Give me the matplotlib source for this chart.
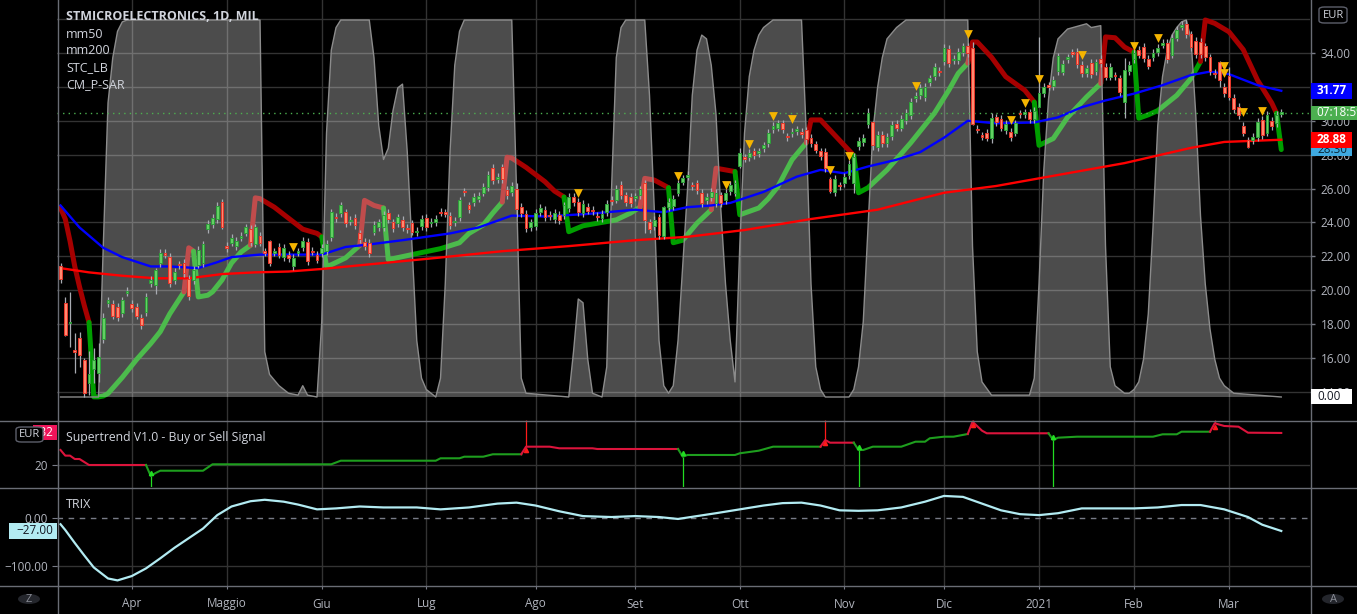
import numpy as np
import pandas as pd
import matplotlib
matplotlib.use("Agg")
import matplotlib.pyplot as plt
from matplotlib import transforms
from matplotlib.patches import Rectangle, FancyBboxPatch, Circle
from matplotlib.lines import Line2D

plt.rcParams['font.family'] = ['Open Sans', 'DejaVu Sans']

# ---------------- data ----------------
TITLE = "STMICROELECTRONICS, 1D, MIL"
LEGEND = ["mm50", "mm200", "STC_LB", "CM_P-SAR"]
ST_TITLE = "Supertrend V1.0 - Buy or Sell Signal"
TRIX_TITLE = "TRIX"
START, END = "2020-03-11", "2021-03-16"
HOLIDAYS = ["2020-04-10", "2020-04-13", "2020-05-01", "2020-12-24",
            "2020-12-25", "2020-12-31", "2021-01-01"]
MONTH_LABELS = ["Apr", "Maggio", "Giu", "Lug", "Ago", "Set", "Ott", "Nov",
                "Dic", "2021", "Feb", "Mar"]
PRICE_TICKS = [14, 16, 18, 20, 22, 24, 26, 28, 30, 34]

OPEN = [21.43, 19.24, 18.06, 16.44, 17.20, 15.90, 14.50, 15.35, 15.10, 17.10,
        19.25, 19.20, 19.00, 18.65, 19.85, 19.20, 19.00, 18.35, 18.70, 20.40,
        20.30, 21.60, 22.20, 21.95, 20.60, 21.52, 21.60, 20.65, 20.60, 21.50,
        21.60, 23.60, 23.90, 24.20, 25.20, 22.60, 22.80, 22.60, 23.10, 23.40,
        23.60, 22.75, 23.20, 22.28, 22.90, 22.22, 22.55, 21.95, 22.10, 21.40,
        22.22, 22.55, 22.85, 22.33, 22.10, 22.20, 22.30, 23.15, 24.34, 24.55,
        24.60, 24.06, 24.25, 23.35, 22.85, 22.80, 23.45, 23.70, 23.70, 24.55,
        24.00, 23.95, 24.15, 23.68, 23.95, 23.42, 23.80, 24.25, 23.96, 24.00,
        24.63, 24.58, 24.40, 24.01, 24.30, 25.83, 25.00, 25.20, 25.40, 25.75,
        26.10, 27.20, 26.55, 27.25, 25.90, 25.80, 26.00, 24.90, 24.50, 23.70,
        23.80, 24.60, 24.75, 24.43, 24.20, 24.45, 24.45, 24.85, 25.50, 25.20,
        24.55, 24.90, 24.73, 24.40, 24.25, 24.60, 25.33, 25.35, 26.20, 25.60,
        25.50, 25.46, 25.60, 26.30, 24.00, 23.80, 24.30, 23.20, 24.90, 24.95,
        25.75, 26.40, 26.70, 26.18, 26.30, 25.75, 25.30, 25.50, 25.15, 25.60,
        25.30, 25.85, 25.75, 27.30, 27.83, 27.85, 28.20, 28.10, 28.40, 28.70,
        29.50, 29.60, 29.85, 29.08, 29.26, 29.40, 29.35, 29.45, 29.00, 28.60,
        28.20, 28.15, 26.55, 25.80, 26.18, 26.30, 26.80, 26.30, 28.50, 28.75,
        29.80, 29.90, 28.45, 29.15, 28.70, 29.10, 29.80, 29.60, 30.05, 30.35,
        31.35, 31.50, 31.40, 32.30, 32.65, 32.93, 33.50, 34.25, 33.56, 33.60,
        34.05, 34.40, 34.30, 29.53, 29.13, 29.30, 29.00, 30.20, 30.10, 29.45,
        29.35, 29.30, 30.43, 30.40, 30.50, 30.10, 30.80, 31.65, 32.08, 32.05,
        32.95, 32.90, 33.65, 34.03, 34.05, 33.30, 32.80, 33.40, 32.95, 33.65,
        33.20, 32.60, 32.68, 32.50, 31.10, 32.95, 33.65, 34.20, 34.35, 33.65,
        33.75, 34.05, 34.50, 34.60, 33.90, 34.90, 35.55, 35.70, 35.10, 34.70,
        34.65, 34.40, 33.75, 32.83, 33.45, 32.00, 32.65, 31.35, 30.80, 29.70,
        28.85, 28.85, 29.05, 30.05, 29.30, 30.00, 29.85, 30.42]
CLOSE = [20.66, 17.35, 18.12, 16.36, 16.20, 13.90, 15.05, 15.90, 16.05, 18.35,
         19.40, 18.50, 18.40, 19.40, 19.95, 18.95, 18.50, 17.95, 19.60, 20.60,
         21.20, 22.20, 22.10, 20.40, 21.10, 21.48, 21.00, 19.65, 21.20, 22.40,
         22.70, 23.90, 24.25, 24.97, 23.70, 22.50, 23.10, 22.90, 23.20, 23.70,
         22.85, 23.70, 22.80, 22.22, 21.60, 22.28, 22.10, 22.50, 21.90, 21.90,
         22.28, 22.90, 21.70, 22.27, 21.80, 22.50, 22.75, 24.60, 24.26, 25.00,
         23.95, 24.14, 23.85, 23.00, 22.60, 22.20, 23.85, 24.00, 24.45, 24.20,
         23.65, 24.30, 23.70, 23.62, 23.45, 23.48, 24.20, 23.70, 24.04, 24.20,
         24.57, 24.52, 23.85, 24.09, 25.30, 25.77, 24.80, 25.50, 25.55, 26.10,
         26.80, 26.50, 26.70, 26.55, 25.60, 26.15, 24.80, 24.55, 23.65, 24.00,
         24.55, 24.85, 24.30, 24.37, 24.55, 24.15, 25.00, 25.50, 25.20, 24.60,
         25.10, 24.70, 24.67, 24.30, 24.50, 25.10, 25.27, 26.00, 25.60, 25.20,
         25.15, 25.54, 25.95, 24.15, 23.60, 24.15, 23.25, 24.90, 25.20, 25.40,
         26.30, 26.60, 26.80, 26.12, 25.90, 25.15, 25.50, 25.80, 25.75, 25.15,
         25.75, 26.20, 26.30, 28.10, 27.77, 28.10, 27.95, 28.20, 28.55, 29.30,
         29.70, 29.85, 29.50, 29.02, 29.34, 29.50, 29.20, 28.90, 28.70, 28.30,
         27.90, 27.20, 25.85, 26.55, 26.12, 26.70, 27.45, 27.85, 28.80, 29.00,
         30.45, 28.55, 29.15, 28.70, 29.05, 29.75, 29.60, 30.10, 30.45, 31.10,
         31.45, 31.95, 32.00, 32.50, 33.20, 32.87, 34.30, 33.40, 33.64, 34.05,
         34.40, 34.00, 29.80, 29.47, 29.07, 29.00, 30.15, 29.90, 29.60, 29.80,
         29.05, 29.85, 30.37, 30.50, 30.10, 30.60, 31.65, 32.00, 32.02, 32.40,
         33.80, 33.35, 33.75, 33.97, 33.35, 32.80, 33.10, 32.75, 33.45, 33.40,
         32.60, 33.20, 32.62, 31.70, 33.00, 33.30, 34.00, 33.90, 33.70, 33.25,
         34.00, 34.30, 34.60, 33.65, 34.90, 35.35, 35.65, 35.10, 34.35, 33.95,
         33.95, 33.75, 32.95, 32.77, 32.40, 31.65, 31.40, 30.70, 30.35, 29.30,
         28.45, 29.05, 29.95, 29.15, 30.35, 29.70, 30.35, 30.46]
WICK = 0.22
HL_OVERRIDE = {0: (21.6, 20.4), 1: (19.6, 17.3), 2: (19.9, 16.65), 3: (17.5, 15.1),
               4: (17.55, 15.45), 5: (16.0, 13.7), 6: (16.4, 13.8), 7: (16.6, 14.5),
               8: (16.9, 14.6), 9: (18.65, 16.9), 20: (21.3, 19.8), 34: (25.4, 23.6),
               44: (22.95, 21.4), 96: (26.3, 24.3), 123: (26.5, 23.4), 127: (24.95, 23.0),
               143: (28.4, 27.2), 157: (29.65, 28.55), 162: (26.7, 25.75), 167: (28.1, 25.75),
               170: (30.75, 29.6), 171: (30.0, 28.3), 192: (34.65, 29.75), 196: (30.45, 28.7),
               206: (34.95, 30.8), 224: (33.7, 30.15), 244: (33.5, 32.0), 246: (33.2, 31.2),
               250: (29.05, 28.4)}

MM50_BAR = [0, 4, 9, 13, 19, 23, 29, 33, 36, 42, 48, 55, 60, 65, 72, 82, 88, 95, 102, 111,
            121, 127, 132, 137, 141, 148, 155, 160, 165, 170, 176, 181, 186, 191, 197, 205,
            210, 215, 220, 226, 232, 238, 242, 246, 252, 257]
MM50_VAL = [25.0, 23.7, 22.5, 21.95, 21.4, 21.4, 21.3, 21.65, 21.95, 22.1, 22.1, 22.1, 22.55,
            22.7, 22.95, 23.35, 23.7, 24.4, 24.35, 24.5, 24.75, 24.6, 24.9, 25.0, 25.15, 25.8,
            26.7, 27.1, 26.9, 27.3, 27.7, 28.15, 29.0, 30.0, 29.85, 29.9, 30.2, 30.8, 31.2,
            31.6, 32.1, 32.7, 32.9, 32.75, 32.1, 31.77]
MM200_BAR = [0, 6, 13, 20, 27, 34, 41, 48, 55, 66, 79, 93, 107, 121, 132, 144, 158, 172,
             186, 197, 210, 224, 238, 245, 257]
MM200_VAL = [21.3, 21.05, 20.85, 20.7, 20.7, 20.95, 21.05, 21.1, 21.25, 21.55, 21.9, 22.3,
             22.6, 22.95, 23.15, 23.55, 24.2, 24.75, 25.75, 26.15, 26.8, 27.5, 28.4, 28.75, 28.88]

STC_BAR = [0, 8, 9, 10, 11, 12, 13, 14, 42, 43, 44, 46, 48, 50, 51, 52, 54,
           55, 56, 57, 58, 59, 65, 66, 67, 68, 69, 70, 71, 72, 73, 74, 75, 76, 77, 78, 79,
           80, 81, 82, 83, 84, 85, 95, 96, 97, 98, 107, 108, 109, 110, 111, 112, 114,
           115, 116, 117, 118, 119, 123, 124, 125, 126, 127, 128,
           129, 130, 131, 132, 133, 134, 135, 136, 137, 138, 139, 140, 141, 142,
           143, 144, 145, 146, 147, 148, 150, 156, 157, 158, 159, 160, 161, 166,
           167, 168, 169, 170, 171, 172, 173, 174, 176, 178, 191, 192, 193, 194, 196, 204,
           205, 206, 207, 208, 209, 210, 212, 216, 217, 219, 220, 221, 222, 224,
           225, 226, 227, 228, 229, 230, 231, 232, 233, 234, 235, 236, 237, 238, 239, 240,
           241, 242, 243, 244, 245, 247, 257]
STC_VAL = [0, 0, 40, 78, 90, 97, 99.5, 100, 100, 12, 6, 3, 1, 0.5, 3, 0.5, 0,
           20, 70, 92, 98, 100, 100, 90, 72, 63, 66, 76, 82, 83, 65, 40, 15, 5, 2, 1, 0,
           5, 30, 65, 88, 97, 100, 100, 55, 5, 1, 0, 12, 26, 25, 10, 1, 0,
           8, 55, 90, 98, 100, 100, 80, 50, 15, 3, 1,
           3, 15, 35, 55, 80, 92, 96, 95, 88, 75, 50, 30, 15, 4,
           40, 70, 85, 92, 96, 98, 100, 100, 70, 30, 8, 2, 0, 0,
           2, 8, 20, 45, 70, 82, 90, 95, 98, 100, 100, 40, 12, 4, 0.5, 0.5,
           5, 30, 60, 79, 90, 95, 97.6, 99, 98, 98.5, 40, 8, 3, 1,
           1, 2, 4, 10, 22, 45, 72, 85, 92, 96, 98, 99.5, 100, 95, 75, 48,
           30, 18, 10, 5, 3, 1, 0]

SAR_BAR = [0, 1, 2, 3, 4, 5, 6, 7, 8, 9, 10, 13, 16, 19, 21, 23, 26, 27, 28, 29, 31, 32, 34,
           36, 38, 40, 41, 42, 45, 48, 51, 54, 55, 56, 57, 60, 63, 64, 66, 68, 69, 74, 80, 84,
           86, 89, 91, 93, 94, 95, 98, 102, 104, 106, 107, 110, 114, 117, 120, 122, 123, 125,
           128, 129, 131, 134, 137, 138, 142, 143, 147, 149, 151, 154, 157, 158, 160, 162,
           165, 167, 168, 170, 174, 179, 184, 187, 189, 191, 192, 193, 196, 199, 203, 205,
           206, 209, 212, 216, 219, 220, 222, 224, 226, 227, 229, 231, 235, 238, 240, 241,
           243, 246, 249, 252, 255, 256, 257]
SAR_VAL = [24.85, 24.2, 22.9, 21.4, 20.2, 19.1, 18.1, 13.7, 13.7, 13.75, 13.9, 14.85, 15.9,
           16.85, 17.55, 18.6, 19.9, 22.5, 22.3, 19.6, 19.7, 19.9, 20.6, 21.6, 22.25, 22.65,
           25.45, 25.4, 24.9, 24.25, 23.6, 23.35, 23.15, 21.4, 21.5, 21.9, 22.65, 25.3, 25.0,
           24.85, 21.8, 22.1, 22.45, 22.8, 23.35, 23.85, 24.55, 25.2, 27.85, 27.8, 27.25,
           26.4, 25.85, 25.5, 23.45, 23.8, 24.0, 24.15, 24.55, 24.9, 26.6, 26.5, 26.05, 22.8,
           22.95, 23.95, 24.75, 27.2, 27.0, 24.45, 24.85, 25.4, 26.1, 27.7, 28.7, 30.05,
           30.05, 29.45, 28.55, 27.95, 25.75, 26.05, 27.1, 28.7, 30.45, 31.8, 32.8, 33.4,
           34.65, 34.65, 33.75, 32.6, 31.8, 31.1, 28.55, 28.95, 30.2, 31.4, 32.2, 34.95,
           34.9, 34.35, 34.05, 30.15, 30.35, 30.6, 31.5, 32.5, 33.5, 35.95, 35.75, 35.25,
           34.2, 32.4, 31.05, 30.45, 28.3]
SAR_DIR = [-1] * 7 + [1] * 10 + [-1] * 2 + [1] * 7 + [-1] * 7 + [1] * 4 + [-1] * 3 + \
          [1] * 8 + [-1] * 6 + [1] * 6 + [-1] * 3 + [1] * 4 + [-1] * 2 + [1] * 6 + \
          [-1] * 5 + [1] * 8 + [-1] * 6 + [1] * 5 + [-1] * 4 + [1] * 6 + [-1] * 7 + [1]

TRI_BAR = [49, 109, 130, 140, 145, 150, 154, 162, 166, 180, 191, 200, 203, 206, 215,
           226, 231, 245, 245, 249, 253]
TRI_VAL = [22.55, 25.75, 26.75, 26.2, 28.6, 30.3, 30.1, 27.1, 27.9, 32.05, 35.1, 30.05,
           31.05, 32.45, 33.9, 34.4, 34.9, 33.25, 32.8, 30.5, 30.6]

ST_BAR = [0, 1, 2, 3, 4, 6, 18, 19, 20, 21, 30, 32, 57, 59, 79, 80, 84, 85, 89, 91, 97,
          98, 103, 105, 112, 113, 130, 131, 132, 142, 143, 147, 150, 160, 161, 162, 167,
          168, 169, 171, 177, 180, 182, 183, 186, 188, 191, 192, 194, 195, 208,
          209, 210, 214, 230, 232, 235, 236, 242, 243, 245, 248, 250, 257]
ST_VAL = [25.77, 23.6, 23.6, 22.3, 22.3, 20.0, 20.0, 15.77, 16.9, 17.8, 17.8, 20.27, 20.27,
          21.65, 21.65, 22.58, 22.58, 23.19, 23.19, 24.12, 24.12, 27.04, 27.04, 26.42, 26.42,
          26.15, 26.15, 23.19, 23.85, 23.85, 24.5, 25.5, 27.04, 27.04, 29.6, 28.58, 28.58,
          25.77, 25.77, 27.04, 27.04, 28.96, 28.96, 30.27, 30.88, 30.88, 31.92, 36.65, 33.19,
          32.19, 32.19, 29.6, 30.5, 30.88, 30.88, 31.8, 31.8, 32.8, 32.8, 36.04, 35.0, 34.73,
          32.42, 32.32]
ST_DIR = [-1] * 7 + [1] * 14 + [-1] * 6 + [1] * 7 + [-1] * 3 + [1] * 10 + [-1] * 4 + \
         [1] * 8 + [-1] * 5
ST_SIGNAL_BAR = [19, 98, 131, 161, 168, 192, 209, 243]
ST_SIGNAL_DIR = [1, -1, 1, -1, 1, -1, 1, -1]

TRIX_BAR = [0, 1, 3, 5, 7, 10, 12, 15, 18, 21, 24, 27, 30, 33, 36, 40, 43, 47, 50, 54, 58,
            63, 68, 75, 80, 86, 92, 96, 100, 105, 110, 116, 121, 126, 130, 134, 138, 143,
            148, 152, 156, 160, 164, 168, 172, 177, 182, 186, 190, 194, 198, 202, 206, 210,
            215, 220, 226, 231, 236, 240, 245, 250, 253, 257]
TRIX_VAL = [-13, -25, -52, -78, -103, -126, -130, -121, -105, -84, -62, -42, -22, 6, 24, 35,
            38, 34, 28, 18, 20, 24, 22, 22, 18, 22, 30, 32, 26, 14, 4, 2, 4, 2, -2, 4, 10, 18,
            26, 31, 32, 26, 16, 15, 16, 22, 34, 46, 44, 30, 16, 8, 6, 10, 20, 20, 20, 22, 27,
            27, 18, 2, -14, -27]

COUNTDOWN = "07:18:59"

# ---------------- derived ----------------
dates = pd.bdate_range(START, END)
dates = dates[~dates.isin(pd.to_datetime(HOLIDAYS))]
idx = np.arange(len(dates))
month_idx = [int(np.argmax((dates.year == y) & (dates.month == m)))
             for y, m in [(2020, 4), (2020, 5), (2020, 6), (2020, 7), (2020, 8), (2020, 9),
                          (2020, 10), (2020, 11), (2020, 12), (2021, 1), (2021, 2), (2021, 3)]]
O = np.array(OPEN)
C = np.array(CLOSE)
HI = np.maximum(O, C) + WICK
LO = np.minimum(O, C) - WICK
for k, (h, l) in HL_OVERRIDE.items():
    HI[k], LO[k] = h, l

# ---------------- figure ----------------
W, H = 1357, 614
fig = plt.figure(figsize=(W / 100, H / 100), dpi=100, facecolor='black')


def rect(x0, y0, x1, y1):
    return [x0 / W, 1 - y1 / H, (x1 - x0) / W, (y1 - y0) / H]


ax = fig.add_axes(rect(57, 0, 1310, 420))
ax_st = fig.add_axes(rect(57, 420, 1310, 487))
ax_tx = fig.add_axes(rect(57, 487, 1310, 585))
XL = (-0.74, 263.05)
GRID = '#333333'
TXT = '#b2b5be'
for a in (ax, ax_st, ax_tx):
    a.set_facecolor('black')
    a.set_xlim(*XL)
    for s in a.spines.values():
        s.set_visible(False)
    for m in month_idx:
        a.axvline(m, color=GRID, lw=1, zorder=0.5)
    a.tick_params(axis='x', bottom=False, labelbottom=False)

# main panel
ax.set_ylim(12.335, 37.129)
for v in np.arange(14, 38, 2):
    ax.axhline(v, color=GRID, lw=1, zorder=0.5)
ax.yaxis.tick_right()
ax.set_yticks(PRICE_TICKS)
ax.set_yticklabels([f"{v:.2f}" for v in PRICE_TICKS])
ax.tick_params(axis='y', colors='#787b86', labelcolor=TXT, labelsize=8.5, length=3.5,
               width=1, pad=4)

# SAR lines (under the STC overlay)
SAR_COL = {1: '#009e00', -1: '#a60000'}
runs = []
cur = [0]
for i in range(1, len(SAR_BAR)):
    if SAR_DIR[i] != SAR_DIR[i - 1]:
        runs.append(cur)
        cur = [i - 1, i]
    else:
        cur.append(i)
runs.append(cur)
for r in runs:
    d = SAR_DIR[r[-1]]
    ax.plot([SAR_BAR[i] for i in r], [SAR_VAL[i] for i in r], color=SAR_COL[d], lw=3.6,
            solid_joinstyle='round', solid_capstyle='round', zorder=1.5)

# STC overlay (0..100 scale placed on the price area)
P0, P100 = 13.693, 35.948
stc_tr = transforms.Affine2D().scale(1, (P100 - P0) / 100).translate(0, P0) + ax.transData
ax.fill_between(STC_BAR, 0, STC_VAL, transform=stc_tr, facecolor='white', alpha=0.30,
                lw=0, zorder=2)
ax.plot(STC_BAR, STC_VAL, transform=stc_tr, color='#8c8c8c', lw=1.0, zorder=2.1)

# moving averages
ax.plot(MM200_BAR, MM200_VAL, color='#ff0000', lw=1.7, zorder=3)
ax.plot(MM50_BAR, MM50_VAL, color='#0000ff', lw=1.7, zorder=3)

# current price dotted line
ax.axhline(C[-1], color='#4caf50', lw=1, ls=(0, (1, 3)), zorder=3)

# candles
up = C >= O
bot = np.minimum(O, C)
hgt = np.maximum(np.abs(C - O), 0.07)
ax.vlines(idx, LO, HI, color='#a8abb2', lw=0.9, zorder=4)
ax.bar(idx[up], hgt[up], bottom=bot[up], width=0.62, color='#63d163', edgecolor='#2e9e3a',
       lw=0.7, zorder=5)
ax.bar(idx[~up], hgt[~up], bottom=bot[~up], width=0.62, color='#ff8a70', edgecolor='#e8362a',
       lw=0.7, zorder=5)

# signal triangles
ax.scatter(TRI_BAR, TRI_VAL, marker='v', s=40, color='#f5b400', linewidths=0, zorder=6)

# supertrend panel
ax_st.set_ylim(11.54, 37.3)
ax_st.axhline(20, color=GRID, lw=1, zorder=0.5)
ST_COL = {1: '#1e9e1e', -1: '#dc143c'}
runs = []
cur = [0]
for i in range(1, len(ST_BAR)):
    if ST_DIR[i] != ST_DIR[i - 1]:
        runs.append(cur)
        cur = [i - 1, i]
    else:
        cur.append(i)
runs.append(cur)
for r in runs:
    d = ST_DIR[r[-1]]
    ax_st.plot([ST_BAR[i] for i in r], [ST_VAL[i] for i in r], color=ST_COL[d], lw=1.5,
               zorder=3)
st_lookup = dict(zip(ST_BAR, ST_VAL))
for b, d in zip(ST_SIGNAL_BAR, ST_SIGNAL_DIR):
    v = st_lookup.get(b, np.interp(b, ST_BAR, ST_VAL))
    if d > 0:
        ax_st.vlines(b, 11.54, v, color='#22dd22', lw=0.9, zorder=2)
        ax_st.plot(b, v + 1.3, marker='^', ms=3, color='#22dd22', zorder=4)
    else:
        ax_st.vlines(b, v, 37.3, color='#ff1a1a', lw=0.9, zorder=2)
        ax_st.plot(b, v - 1.3, marker='^', ms=3, color='#ff1a1a', zorder=4)
ax_st.set_yticks([20])
ax_st.set_yticklabels(["20"])
ax_st.tick_params(axis='y', colors='#787b86', labelcolor=TXT, labelsize=8.5, length=3.5,
                  pad=3)

# TRIX panel
ax_tx.set_ylim(-139.6, 64.6)
ax_tx.axhline(-100, color=GRID, lw=1, zorder=0.5)
ax_tx.axhline(0, color='#787b86', lw=1, ls=(0, (4, 4)), zorder=1)
ax_tx.plot(TRIX_BAR, TRIX_VAL, color='#b2ebf2', lw=1.6, zorder=3)
ax_tx.set_yticks([0, -100])
ax_tx.set_yticklabels([f"{v:.2f}".replace('-', '\u2212') for v in (0, -100)])
ax_tx.tick_params(axis='y', colors='#787b86', labelcolor=TXT, labelsize=8.5, length=3.5,
                  pad=3)
ax_tx.set_xticks(month_idx)
ax_tx.set_xticklabels(MONTH_LABELS)
ax_tx.tick_params(axis='x', bottom=True, labelbottom=True, colors='#787b86',
                  labelcolor=TXT, labelsize=8.5, length=3, pad=6)

# separators
def fline(x0, y0, x1, y1, color='#6a6d75'):
    fig.add_artist(Line2D([x0 / W, x1 / W], [1 - y0 / H, 1 - y1 / H], color=color, lw=1,
                          transform=fig.transFigure, zorder=10))


fline(0, 420.5, W, 420.5)
fline(0, 487.5, W, 487.5)
fline(0, 585.5, W, 585.5)
fline(57.5, 0, 57.5, H)
fline(1310.5, 0, 1310.5, H)

# legend text
fig.text(66 / W, 1 - 16 / H, TITLE, color='#d1d4dc', fontsize=9, fontweight='bold',
         va='center', ha='left')
for k, name in enumerate(LEGEND):
    fig.text(66 / W, 1 - (34 + 17 * k) / H, name, color='#d1d4dc', fontsize=9,
             va='center', ha='left')
fig.text(66 / W, 1 - 437 / H, ST_TITLE, color='#d1d4dc', fontsize=8.8, va='center', ha='left')
fig.text(66 / W, 1 - 504 / H, TRIX_TITLE, color='#d1d4dc', fontsize=9, va='center',
         ha='left')


def ypix(a, v):
    return H - a.transData.transform((0, v))[1]


def label_box(x0, x1, yc, h, fc, text, tc, ha='left', tx=None, bold=False, z=11):
    fig.add_artist(Rectangle((x0 / W, 1 - (yc + h / 2) / H), (x1 - x0) / W, h / H,
                             transform=fig.transFigure, facecolor=fc, edgecolor='none',
                             zorder=z))
    fig.text((tx if tx is not None else x0 + 6) / W, 1 - yc / H, text, color=tc,
             fontsize=8.5, fontweight='bold' if bold else 'normal', ha=ha, va='center',
             zorder=z + 0.5)


label_box(1311, 1352, ypix(ax, MM50_VAL[-1]), 16, '#0000ff', f"{MM50_VAL[-1]:.2f}", 'white',
          bold=True)
label_box(1311, 1357, ypix(ax, C[-1]), 14, '#4caf50', COUNTDOWN, 'white', tx=1316)
label_box(1311, 1352, ypix(ax, SAR_VAL[-1]), 12, '#3fa9e0', f"{SAR_VAL[-1]:.2f}", '#0b2a3a')
label_box(1311, 1352, ypix(ax, MM200_VAL[-1]), 16, '#ff0000', f"{MM200_VAL[-1]:.2f}",
          'white', bold=True, z=12)
yz = H - stc_tr.transform((0, STC_VAL[-1]))[1]
label_box(1311, 1352, yz, 15, 'white', f"{STC_VAL[-1]:.2f}", '#131722')
label_box(9, 57, ypix(ax_tx, TRIX_VAL[-1]), 16, '#b2ebf2',
          f"{TRIX_VAL[-1]:.2f}".replace('-', '\u2212'), '#131722', ha='right', tx=53)
label_box(33, 57, ypix(ax_st, ST_VAL[-1]), 15, '#f0145a', f"{ST_VAL[-1]:.2f}", 'white',
          ha='right', tx=53)

# EUR boxes
for (x0, y0, x1, y1) in [(1319, 7, 1347, 23), (16, 427, 43, 442)]:
    fig.add_artist(FancyBboxPatch((x0 / W, 1 - y1 / H), (x1 - x0) / W, (y1 - y0) / H,
                                  boxstyle="round,pad=0,rounding_size=0.004",
                                  transform=fig.transFigure, facecolor='black',
                                  edgecolor='#5d606b', lw=1, zorder=13))
    fig.text((x0 + x1) / 2 / W, 1 - (y0 + y1) / 2 / H, "EUR", color='#d1d4dc', fontsize=8,
             ha='center', va='center', zorder=14)

# bottom circles
for (cx, ch) in [(29, "Z"), (1333, "A")]:
    fig.add_artist(Circle((cx / W, 1 - 599 / H), 11 / W, transform=fig.transFigure,
                          facecolor='#24262c', edgecolor='none', zorder=10))
    fig.text(cx / W, 1 - 599 / H, ch, color='#8a8d96', fontsize=8, ha='center', va='center',
             zorder=11)

fig.savefig("out.png", dpi=100, facecolor='black')
